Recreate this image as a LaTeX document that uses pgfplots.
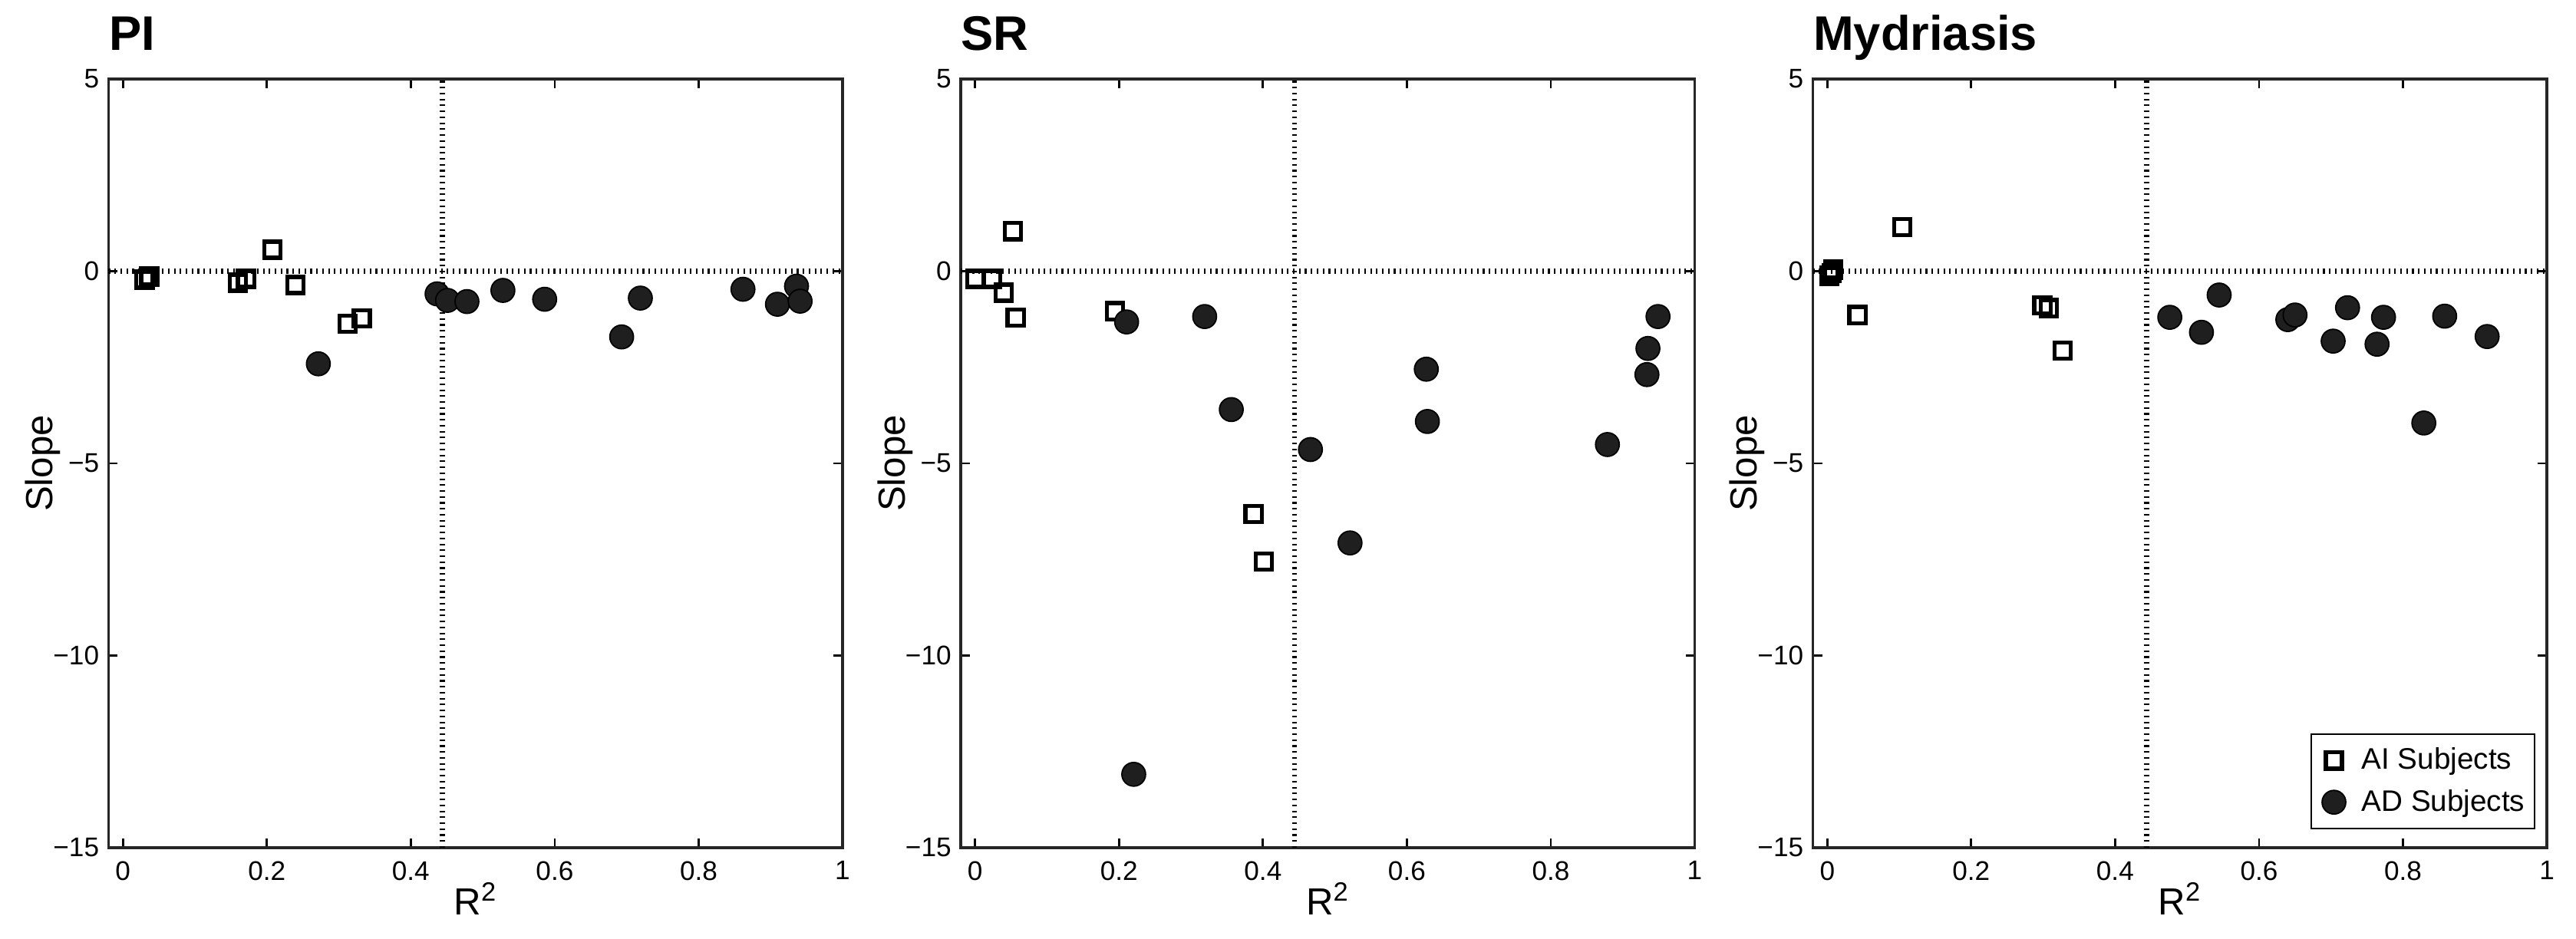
\documentclass[border=0pt]{standalone}
\usepackage{fontspec}
\setmainfont{Liberation Sans}
\usepackage{pgfplots}
\pgfplotsset{compat=1.18}

\pgfplotsset{
  panel/.style={
    scale only axis, width=9.565cm, height=10.02cm,
    xmin=-0.02, xmax=1, ymin=-15, ymax=5,
    xtick={0,0.2,0.4,0.6,0.8,1}, xticklabels={0,0.2,0.4,0.6,0.8,1},
    ytick={-15,-10,-5,0,5}, yticklabels={−15,−10,−5,0,5},
    tick align=inside, major tick length=0.12cm,
    axis line style={line width=1pt, black!85},
    every tick/.style={black, line width=0.8pt},
    tick label style={font=\fontsize{10}{12}\selectfont},
    xticklabel style={yshift=-1.5pt},
    xlabel={R\textsuperscript{2}}, ylabel={Slope},
    label style={font=\fontsize{14}{16}\selectfont},
    xlabel style={at={(axis description cs:0.5,-0.0878)}, anchor=base, inner sep=0pt},
    ylabel style={at={(axis description cs:-0.0763,0.5)}, anchor=base, inner sep=0pt},
    title style={at={(axis description cs:0,1)}, anchor=base west, yshift=0.16cm, inner sep=0pt, font=\bfseries\fontsize{18}{21}\selectfont},
  },
  ai/.style={only marks, mark=square, mark size=3pt, mark options={line width=1.5pt, draw=black, fill=none, solid}},
  ad/.style={only marks, mark=*, mark size=4.4pt, mark options={draw=black, fill=black!88, line width=0.5pt, solid}},
  refline/.style={line width=1.8pt, dash pattern=on 0.6pt off 1.6pt, black, forget plot},
}

\begin{document}
\begin{tikzpicture}
\path[use as bounding box] (0,0) rectangle (33.57cm,12.23cm);

% ---------------- PI ----------------
\begin{axis}[panel, at={(1.415cm,1.18cm)}, anchor=south west, title={PI}]
\addplot[refline] coordinates {(-0.02,0) (1,0)};
\addplot[refline] coordinates {(0.444,-15) (0.444,5)};
\addplot[ai] coordinates {(0.030,-0.22) (0.0365,-0.14) (0.160,-0.30) (0.171,-0.20) (0.208,0.56) (0.240,-0.36) (0.3125,-1.37) (0.332,-1.23)};
\addplot[ad] coordinates {(0.2715,-2.41) (0.4365,-0.59) (0.451,-0.76) (0.478,-0.79) (0.528,-0.50) (0.586,-0.73) (0.693,-1.71) (0.719,-0.70) (0.8616,-0.47) (0.9095,-0.86) (0.936,-0.39) (0.941,-0.78)};
\end{axis}

% ---------------- SR ----------------
\begin{axis}[panel, at={(12.52cm,1.18cm)}, anchor=south west, title={SR}]
\addplot[refline] coordinates {(-0.02,0) (1,0)};
\addplot[refline] coordinates {(0.444,-15) (0.444,5)};
\addplot[ai] coordinates {(0.0,-0.20) (0.024,-0.20) (0.040,-0.56) (0.0526,1.04) (0.0564,-1.21) (0.194,-1.04) (0.387,-6.32) (0.401,-7.56)};
\addplot[ad] coordinates {(0.2105,-1.32) (0.2204,-13.09) (0.319,-1.18) (0.356,-3.60) (0.466,-4.64) (0.521,-7.07) (0.627,-2.55) (0.6285,-3.91) (0.8787,-4.51) (0.9336,-2.69) (0.935,-2.01) (0.949,-1.18)};
\end{axis}

% ---------------- Mydriasis ----------------
\begin{axis}[panel, at={(23.625cm,1.18cm)}, anchor=south west, title={Mydriasis},
  legend style={at={(rel axis cs:0.984,0.024)}, anchor=south east, draw=black, line width=0.6pt,
    font=\fontsize{11}{13}\selectfont, inner xsep=1.5pt, inner ysep=3pt, row sep=2pt},
  legend cell align=left,
  legend image code/.code={\path (0cm,0cm) (0.51cm,0cm); \draw[#1] plot coordinates {(0.23cm,0cm)};}]
\addplot[refline] coordinates {(-0.02,0) (1,0)};
\addplot[refline] coordinates {(0.444,-15) (0.444,5)};
\addplot[ai] coordinates {(0.003,-0.12) (0.0085,0.04) (0.006,-0.05) (0.042,-1.14) (0.104,1.15) (0.299,-0.89) (0.308,-0.96) (0.327,-2.07)};
\addplot[ad] coordinates {(0.476,-1.20) (0.520,-1.59) (0.5446,-0.62) (0.640,-1.26) (0.650,-1.14) (0.703,-1.82) (0.723,-0.95) (0.764,-1.90) (0.773,-1.20) (0.829,-3.95) (0.858,-1.17) (0.917,-1.70)};
\legend{AI Subjects, AD Subjects}
\end{axis}
\end{tikzpicture}
\end{document}
